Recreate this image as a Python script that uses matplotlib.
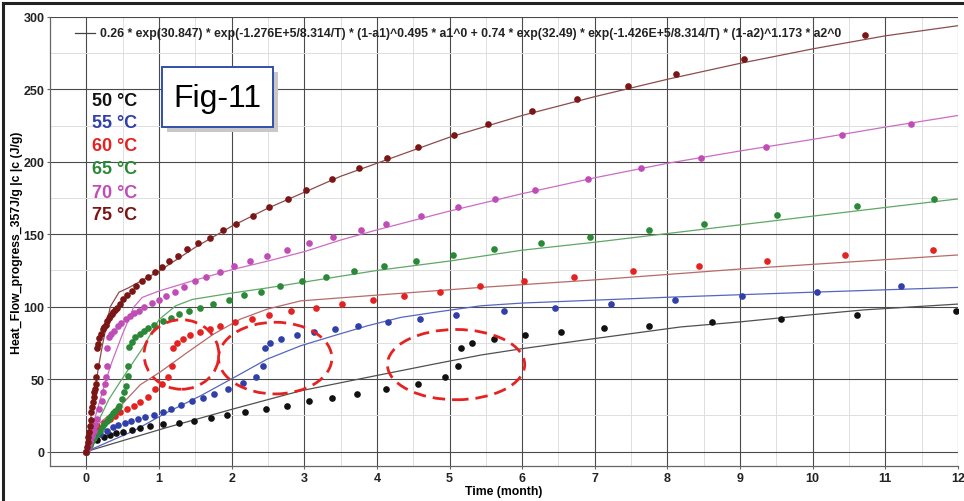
import matplotlib
matplotlib.use('Agg')
import matplotlib.pyplot as plt
from matplotlib.patches import Ellipse, Rectangle
from matplotlib.lines import Line2D

plt.rcParams['font.family'] = ['Liberation Sans', 'DejaVu Sans']

# measured points (time in months, heat flow progress in J/g)
t50 = [0, 0.02, 0.055, 0.15, 0.24, 0.32, 0.41, 0.51, 0.63, 0.74, 0.88, 1.06, 1.27, 1.48, 1.71, 1.93,
       2.19, 2.47, 2.76, 3.07, 3.38, 3.72, 4.12, 4.57, 4.94, 5.12, 5.16, 5.31, 5.61, 6.04, 6.53, 7.13,
       7.75, 8.62, 9.56, 10.61, 11.97]
y50 = [0, 2.5, 5, 8, 9.7, 11.3, 12.6, 13.8, 14.9, 16.1, 17.3, 18.9, 20, 21.4, 23, 25.3,
       27, 29.2, 31.5, 34.6, 37, 39.8, 43, 46.7, 51.7, 58.8, 71.2, 74.7, 77.8, 80.6, 82.2, 85,
       86.6, 89.1, 91.6, 94, 97]

t55 = [0, 0.02, 0.055, 0.12, 0.19, 0.28, 0.37, 0.44, 0.53, 0.62, 0.71, 0.81, 0.93, 1.05, 1.17, 1.31,
       1.46, 1.60, 1.76, 1.95, 2.16, 2.34, 2.43, 2.46, 2.53, 2.68, 2.90, 3.14, 3.43, 3.74, 4.15, 4.60,
       5.09, 5.75, 6.45, 7.22, 8.10, 9.02, 10.06, 11.22]
y55 = [0, 3.5, 7.3, 10.8, 12.4, 14.2, 16.6, 18.2, 19.6, 21.1, 22.3, 23.5, 25.3, 27, 29.2, 31.8,
       34.6, 36.8, 39.6, 43, 47, 51.6, 58.9, 71.2, 74.6, 77.6, 80.4, 82.7, 84.5, 86.4, 89.2, 91.4,
       94.2, 97, 99.3, 101.8, 104.8, 107.5, 110.3, 114.0]

t60 = [0, 0.02, 0.055, 0.10, 0.15, 0.24, 0.33, 0.40, 0.47, 0.56, 0.65, 0.74, 0.85, 0.94, 1.04, 1.13,
       1.18, 1.19, 1.25, 1.33, 1.43, 1.56, 1.70, 1.84, 2.05, 2.28, 2.52, 2.82, 3.16, 3.52, 3.94, 4.37,
       4.87, 5.42, 6.03, 6.72, 7.53, 8.43, 9.37, 10.45, 11.66]
y60 = [0, 5, 12, 15.5, 17.7, 20, 22.3, 24.6, 27, 29.2, 31.5, 34.3, 37.3, 43, 46.5, 51.6,
       59.2, 71.2, 74.6, 77.6, 80.4, 82.2, 84.5, 86.6, 89.2, 91.4, 94.2, 96.9, 99.2, 101.8, 104.6, 107.5,
       110.4, 114.0, 117.5, 120.2, 124.4, 128.1, 131.5, 135.4, 139.3]

t65 = [0, 0.03, 0.05, 0.08, 0.11, 0.15, 0.19, 0.22, 0.25, 0.28, 0.31, 0.34, 0.37, 0.40, 0.43, 0.45,
       0.49, 0.52, 0.55, 0.58, 0.58, 0.59, 0.63, 0.67, 0.74, 0.79, 0.85, 0.93, 1.05, 1.16, 1.27, 1.41,
       1.57, 1.75, 1.96, 2.17, 2.40, 2.66, 2.97, 3.30, 3.68, 4.10, 4.54, 5.05, 5.61, 6.26, 6.94, 7.75,
       8.51, 9.51, 10.61, 11.67]
y65 = [0, 2.5, 4.5, 7.3, 9.5, 12, 14.5, 16.6, 19, 21.1, 23, 24.6, 26.5, 28.1, 30, 31.5,
       36.1, 40.8, 45.3, 52.2, 59.2, 71.9, 75.3, 78.8, 81.1, 83.3, 85.0, 87.3, 90.3, 91.9, 94.9, 97.2,
       99.2, 101.8, 104.6, 107.8, 110.3, 114.4, 117.5, 120.2, 124.4, 128.3, 131.7, 135.5, 139.8, 143.8, 147.9, 152.9,
       157.3, 163.1, 169.3, 174.4]

t70 = [0, 0.02, 0.04, 0.055, 0.08, 0.10, 0.12, 0.15, 0.18, 0.21, 0.23, 0.26, 0.27, 0.29, 0.29, 0.31,
       0.34, 0.38, 0.43, 0.48, 0.54, 0.60, 0.66, 0.72, 0.80, 0.90, 1.00, 1.10, 1.22, 1.35, 1.50, 1.65,
       1.84, 2.03, 2.25, 2.49, 2.76, 3.07, 3.39, 3.78, 4.13, 4.61, 5.12, 5.63, 6.17, 6.90, 7.64, 8.46,
       9.35, 10.40, 11.35]
y70 = [0, 2.5, 5, 7.3, 11, 14.2, 18, 22.3, 29.2, 35, 40.8, 46.5, 51.6, 59.2, 71.4, 78.8,
       81.1, 83.3, 86.4, 88.7, 91.4, 93.7, 95.6, 97.2, 99.5, 102.5, 104.8, 107.5, 110.3, 113.8, 117.5, 120.2,
       124.1, 127.8, 131.5, 135.2, 139.3, 143.9, 148.1, 152.7, 157.1, 162.8, 169.0, 174.5, 180.7, 188.3, 195.8, 202.9,
       210.3, 218.6, 226]

t75 = [0, 0.01, 0.02, 0.03, 0.04, 0.05, 0.06, 0.07, 0.08, 0.09, 0.10, 0.11, 0.12, 0.13, 0.14, 0.15,
       0.15, 0.16, 0.18, 0.20, 0.23, 0.25, 0.27, 0.29, 0.31, 0.33, 0.35, 0.37, 0.40, 0.42, 0.46, 0.51,
       0.56, 0.63, 0.69, 0.77, 0.85, 0.94, 1.04, 1.14, 1.26, 1.39, 1.54, 1.70, 1.88, 2.06, 2.29, 2.52,
       2.77, 3.03, 3.38, 3.75, 4.14, 4.57, 5.06, 5.53, 6.13, 6.75, 7.46, 8.12, 9.05, 10.72]
y75 = [0, 3, 6.5, 9.7, 13.5, 17.7, 22, 27, 30.5, 33.9, 37.5, 40.8, 43.5, 46.5, 51.6, 58.7,
       71.2, 74.5, 78.1, 81.3, 84.5, 86, 87.3, 90.3, 92, 93.7, 95, 96, 97.5, 98.8, 101.8, 105.3,
       107.8, 110.6, 114, 117.5, 120.5, 124.1, 127.6, 131.3, 135.2, 139.8, 143.7, 147.6, 152.7, 156.9, 162.8, 169,
       174.4, 180.6, 188.2, 195.6, 202.9, 210.3, 218.4, 225.9, 234.9, 243.4, 252.4, 260.5, 270.9, 287.9]

# model curves
f50_t = [0, 1.11, 2.03, 2.95, 3.86, 4.78, 5.43, 6, 7, 8.18, 9, 10, 10.71, 12]
f50_y = [0, 16.6, 29.5, 41.9, 51.1, 60.3, 66.6, 71, 78, 86, 89.5, 94.5, 97.8, 101.8]
f55_t = [0, 0.65, 1.11, 1.57, 2.03, 2.49, 2.95, 3.41, 3.87, 4.33, 4.78, 5.43, 6, 8, 10, 12]
f55_y = [0, 14.2, 27, 38.4, 51, 63.8, 73, 80, 86.8, 92.6, 96, 100.6, 102.5, 106.5, 110, 113.3]
f60_t = [0, 0.1, 0.19, 0.47, 0.74, 1.02, 1.39, 1.75, 2.12, 2.49, 2.95, 3.87, 5.43, 7, 9, 12]
f60_y = [0, 12, 20, 31.5, 46, 55, 68.4, 81, 91.4, 98.3, 104, 107.5, 113.3, 118.5, 126, 135.7]
f65_t = [0, 0.1, 0.31, 0.49, 0.77, 1.0, 1.23, 1.46, 2.0, 2.5, 3, 3.5, 4, 5, 6, 7, 8, 9, 10, 11, 12]
f65_y = [0, 14, 36, 50, 71, 91, 100.6, 105, 109.4, 113, 117, 121, 125, 131.5, 139, 144.5, 150.5, 156.5, 162.5,
         168.5, 174.4]
f70_t = [0, 0.1, 0.26, 0.35, 0.49, 0.65, 0.77, 1.0, 1.46, 2.0, 2.5, 3, 3.5, 4, 5, 6, 7, 8, 9, 10, 11, 12]
f70_y = [0, 20, 47.7, 61.5, 80, 99.5, 106.4, 110.8, 117.8, 125.5, 131.5, 138, 146, 153, 166, 178, 189, 199,
         207.5, 215.5, 224, 232]
f75_t = [0, 0.08, 0.17, 0.22, 0.33, 0.45, 0.58, 0.8, 1.0, 1.5, 2, 2.5, 3, 3.5, 4, 4.5, 5, 6, 7, 8, 9, 10, 11, 12]
f75_y = [0, 30, 59, 73, 100, 110, 113, 119, 124.5, 141, 155.5, 168, 179, 190, 199, 208, 217, 232, 245, 257, 268,
         278, 287, 294]

labels = ['50 °C', '55 °C', '60 °C', '65 °C', '70 °C', '75 °C']
dot_colors = ['#111111', '#3040A8', '#E52222', '#2B8838', '#C04DB6', '#7A1616']
line_colors = ['#505050', '#5565C0', '#B86A6A', '#5FA865', '#CC6CC6', '#8C4C4C']

equation = ('0.26 * exp(30.847) * exp(-1.276E+5/8.314/T) * (1-a1)^0.495 * a1^0 + '
            '0.74 * exp(32.49) * exp(-1.426E+5/8.314/T) * (1-a2)^1.173 * a2^0')

# highlighted regions: (center t, center y, width, height)
ellipses = [(1.31, 67, 1.03, 48), (2.60, 64.5, 1.56, 49.5), (5.09, 60, 1.89, 48.5)]

fig = plt.figure(figsize=(9.64, 5.02), dpi=100)
ax = fig.add_axes([50 / 964, 35 / 502, 908 / 964, 449 / 502])

ax.set_xlim(-0.5, 12)
ax.set_ylim(-10, 300)
ax.set_xticks(range(0, 13))
ax.set_yticks(range(0, 301, 50))
ax.set_xticks([x + 0.5 for x in range(-1, 12)], minor=True)
ax.set_yticks(range(25, 300, 50), minor=True)
ax.grid(which='major', color='#4a4a4a', lw=0.8)
ax.grid(which='minor', color='#dedede', lw=0.7)
ax.set_axisbelow(True)

for sp in ['top', 'right']:
    ax.spines[sp].set_visible(False)
for sp in ['left', 'bottom']:
    ax.spines[sp].set_color('#666666')
    ax.spines[sp].set_linewidth(0.9)
ax.tick_params(which='major', length=2, color='#666666', labelsize=9, pad=2)
ax.tick_params(which='minor', length=0)
for lab in ax.get_xticklabels() + ax.get_yticklabels():
    lab.set_fontweight('bold')
    lab.set_color('#222222')

fits = [(f50_t, f50_y), (f55_t, f55_y), (f60_t, f60_y), (f65_t, f65_y), (f70_t, f70_y), (f75_t, f75_y)]
data = [(t50, y50), (t55, y55), (t60, y60), (t65, y65), (t70, y70), (t75, y75)]
for (ft, fy), (t, y), lc, dc in zip(fits, data, line_colors, dot_colors):
    ax.plot(ft, fy, color=lc, lw=0.9, zorder=3)
    ax.plot(t, y, 'o', color=dc, ms=4.8, mec='none', zorder=4)

for cx, cy, w, h in ellipses:
    ax.add_patch(Ellipse((cx, cy), w, h, fill=False, ec='#E52222', lw=2.0,
                         ls=(0, (4.5, 2.5)), zorder=5))

ax.set_xlabel('Time (month)', fontsize=8.8, fontweight='bold', labelpad=1)
ax.set_ylabel('Heat_Flow_progress_357J/g |c |c (J/g)', fontsize=8.8, fontweight='bold', labelpad=0)

# equation key at top
fig.add_artist(Line2D([75 / 964, 95 / 964], [1 - 34 / 502, 1 - 34 / 502], color='#444444', lw=0.9))
fig.text(100 / 964, 1 - 34 / 502, equation, fontsize=8.8, fontweight='bold', color='#222222', va='center')

# temperature labels
for i, (lab, c) in enumerate(zip(labels, dot_colors)):
    fig.text(92 / 964, 1 - (101 + 23 * i) / 502, lab, fontsize=13, fontweight='bold', color=c, va='center')

# Fig-11 box with shadow
fig.add_artist(Rectangle((167 / 964, 1 - 133 / 502), 111 / 964, 60 / 502, fc='#c8c8c8', ec='none'))
fig.add_artist(Rectangle((162 / 964, 1 - 128 / 502), 111 / 964, 60 / 502, fc='white', ec='#3050A8', lw=1.4))
fig.text(217 / 964, 1 - 99 / 502, 'Fig-11', fontsize=23, color='black', ha='center', va='center')

# outer frame
fig.add_artist(Line2D([0.003, 0.003], [0, 0.993], color='#222222', lw=2.2))
fig.add_artist(Line2D([0.003, 1], [0.993, 0.993], color='#222222', lw=2.2))

fig.savefig('out.png', dpi=100)
